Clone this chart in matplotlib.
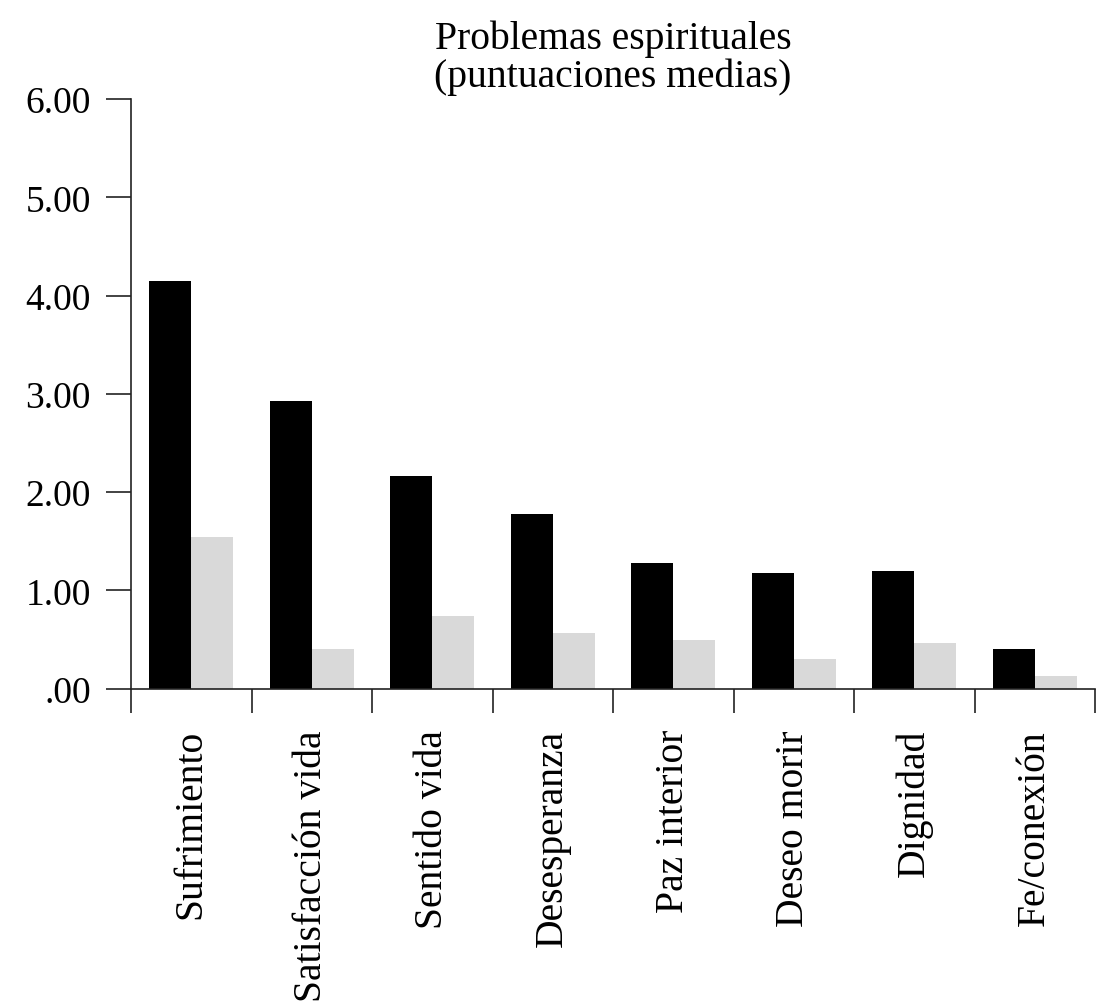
import matplotlib
matplotlib.use("Agg")
import matplotlib.pyplot as plt
import numpy as np
from matplotlib.ticker import FixedLocator, FuncFormatter

categories = ["Sufrimiento", "Satisfacción vida", "Sentido vida", "Desesperanza",
              "Paz interior", "Deseo morir", "Dignidad", "Fe/conexión"]
serie_negra = [4.15, 2.93, 2.16, 1.78, 1.28, 1.18, 1.20, 0.40]
serie_gris = [1.54, 0.40, 0.74, 0.57, 0.50, 0.30, 0.47, 0.13]
y_ticks = [0, 1, 2, 3, 4, 5, 6]
title = "Problemas espirituales\n(puntuaciones medias)"

plt.rcParams['font.family'] = ['Liberation Serif', 'DejaVu Serif']

fig = plt.figure(figsize=(10.99, 10.04), dpi=100)
ax = fig.add_axes([0.1192, 0.3130, 0.9964 - 0.1192, 0.9004 - 0.3130])

x = np.arange(len(categories))
w = 0.35
ax.bar(x - w / 2, serie_negra, width=w, color="#000000", linewidth=0)
ax.bar(x + w / 2, serie_gris, width=w, color="#d9d9d9", linewidth=0)

ax.set_xlim(-0.5, len(categories) - 0.5)
ax.set_ylim(0, 6)

for s in ["top", "right"]:
    ax.spines[s].set_visible(False)
for s in ["left", "bottom"]:
    ax.spines[s].set_linewidth(1.2)
    ax.spines[s].set_color("#222222")

ax.set_yticks(y_ticks)
ax.yaxis.set_major_formatter(FuncFormatter(lambda v, p: f"{v:.2f}".lstrip("0") if v < 1 else f"{v:.2f}"))
ax.tick_params(axis="y", length=18, width=1.2, color="#222222", pad=11, labelsize=27)

ax.set_xticks(x)
ax.set_xticklabels(categories, rotation=90, fontsize=28.5)
ax.tick_params(axis="x", which="major", length=0, pad=29)
ax.xaxis.set_minor_locator(FixedLocator(np.arange(-0.5, len(categories), 1.0)))
ax.tick_params(axis="x", which="minor", length=17, width=1.2, color="#222222")

ax.set_title(title, fontsize=28.5, linespacing=1.04, pad=9)

fig.savefig("out.png", dpi=100)
